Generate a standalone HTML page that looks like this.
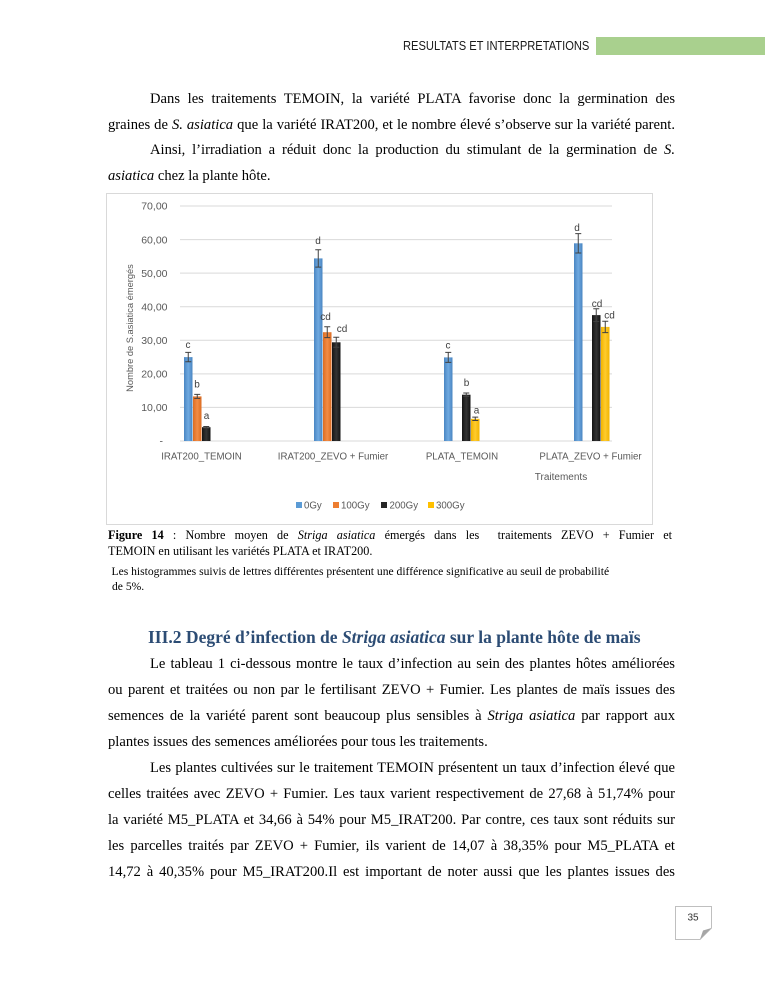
<!DOCTYPE html>
<html>
<head>
<meta charset="utf-8">
<style>
  html, body { margin:0; padding:0; background:#fff; }
  body { width:765px; height:990px; position:relative; overflow:hidden; }
  .t { position:absolute; font-family:"Liberation Serif", "DejaVu Serif", serif; color:#000; white-space:nowrap; }
  .b { font-size:14.6px; height:20px; line-height:20px; }
  .j { text-align:justify; text-align-last:justify; }
  .full { left:108px; width:567px; }
  .ind { left:150px; width:525px; }
  .cap { font-size:12.2px; height:16px; line-height:16px; }
  .note { font-size:11.6px; height:15px; line-height:15px; }
  .hdr { position:absolute; left:403px; top:37px; height:18px; line-height:18px; font-family:"Liberation Sans", sans-serif; font-size:13.2px; color:#1a1a1a; white-space:nowrap; transform-origin:0 50%; transform:scaleX(0.845); }
  .h2 { font-size:17.5px; font-weight:bold; color:#2C4C74; height:24px; line-height:24px; left:148px; }
</style>
</head>
<body>

<!-- header -->
<div class="hdr">RESULTATS ET INTERPRETATIONS</div>
<div style="position:absolute;left:596px;top:37px;width:169px;height:17.5px;background:#A9D08E;"></div>

<!-- top paragraph -->
<div class="t b j ind" style="top:89px;">Dans les traitements TEMOIN, la variété PLATA favorise donc la germination des</div>
<div class="t b j full" style="top:115px;">graines de <i>S. asiatica</i> que la variété IRAT200, et le nombre élevé s’observe sur la variété parent.</div>
<div class="t b j ind" style="top:140px;">Ainsi, l’irradiation a réduit donc la production du stimulant de la germination de <i>S.</i></div>
<div class="t b" style="left:108px;top:166px;"><i>asiatica</i> chez la plante hôte.</div>

<!-- chart -->
<svg style="position:absolute;left:0;top:0;" width="765" height="990" viewBox="0 0 765 990" xmlns="http://www.w3.org/2000/svg">
  <defs>
    <linearGradient id="gb" x1="0" y1="0" x2="1" y2="0">
      <stop offset="0" stop-color="#4A86C2"/><stop offset="0.5" stop-color="#6FA9E0"/><stop offset="1" stop-color="#4A86C2"/>
    </linearGradient>
    <linearGradient id="go" x1="0" y1="0" x2="1" y2="0">
      <stop offset="0" stop-color="#DC6C22"/><stop offset="0.5" stop-color="#F28C45"/><stop offset="1" stop-color="#DC6C22"/>
    </linearGradient>
    <linearGradient id="gk" x1="0" y1="0" x2="1" y2="0">
      <stop offset="0" stop-color="#141414"/><stop offset="0.5" stop-color="#343434"/><stop offset="1" stop-color="#141414"/>
    </linearGradient>
    <linearGradient id="gy" x1="0" y1="0" x2="1" y2="0">
      <stop offset="0" stop-color="#F2B400"/><stop offset="0.5" stop-color="#FFCB2E"/><stop offset="1" stop-color="#F2B400"/>
    </linearGradient>
  </defs>

  <rect x="106.5" y="193.5" width="546" height="331" fill="#fff" stroke="#D9D9D9" stroke-width="1"/>

  <!-- gridlines -->
  <g stroke="#D9D9D9" stroke-width="1">
    <line x1="180" y1="206" x2="612" y2="206"/>
    <line x1="180" y1="239.6" x2="612" y2="239.6"/>
    <line x1="180" y1="273.1" x2="612" y2="273.1"/>
    <line x1="180" y1="306.7" x2="612" y2="306.7"/>
    <line x1="180" y1="340.3" x2="612" y2="340.3"/>
    <line x1="180" y1="373.9" x2="612" y2="373.9"/>
    <line x1="180" y1="407.4" x2="612" y2="407.4"/>
    <line x1="180" y1="441" x2="612" y2="441"/>
  </g>

  <!-- y tick labels -->
  <g font-family="Liberation Sans, sans-serif" font-size="10.5" fill="#595959" text-anchor="end">
    <text x="167.5" y="209.7">70,00</text>
    <text x="167.5" y="243.3">60,00</text>
    <text x="167.5" y="276.8">50,00</text>
    <text x="167.5" y="310.4">40,00</text>
    <text x="167.5" y="344">30,00</text>
    <text x="167.5" y="377.6">20,00</text>
    <text x="167.5" y="411.1">10,00</text>
    <text x="163" y="444.5">-</text>
  </g>

  <!-- y axis title -->
  <text transform="translate(132.8,328) rotate(-90)" font-family="Liberation Sans, sans-serif" font-size="9.3" fill="#595959" text-anchor="middle">Nombre de S.asiatica émergés</text>

  <!-- bars -->
  <g>
    <rect x="184" y="357.1" width="8.5" height="83.9" fill="url(#gb)"/>
    <rect x="193" y="396.4" width="8.5" height="44.6" fill="url(#go)"/>
    <rect x="202" y="427.2" width="8.5" height="13.8" fill="url(#gk)"/>
    <rect x="314" y="258.4" width="8.5" height="182.6" fill="url(#gb)"/>
    <rect x="323" y="332.2" width="8.5" height="108.8" fill="url(#go)"/>
    <rect x="332" y="342.3" width="8.5" height="98.7" fill="url(#gk)"/>
    <rect x="444" y="357.4" width="8.5" height="83.6" fill="url(#gb)"/>
    <rect x="462" y="394.7" width="8.5" height="46.3" fill="url(#gk)"/>
    <rect x="471" y="418.8" width="8.5" height="22.2" fill="url(#gy)"/>
    <rect x="574" y="243.3" width="8.5" height="197.7" fill="url(#gb)"/>
    <rect x="592" y="315.1" width="8.5" height="125.9" fill="url(#gk)"/>
    <rect x="601" y="326.9" width="8.5" height="114.1" fill="url(#gy)"/>
  </g>

  <!-- error bars -->
  <g stroke="#404040" stroke-width="1" fill="none">
    <path d="M188.25 352.4V361.8M185.25 352.4H191.25M185.25 361.8H191.25"/>
    <path d="M197.25 394.4V398.4M194.25 394.4H200.25M194.25 398.4H200.25"/>
    <path d="M206.25 426.5V427.9M203.25 426.5H209.25M203.25 427.9H209.25"/>

    <path d="M318.25 249.7V267.1M315.25 249.7H321.25M315.25 267.1H321.25"/>
    <path d="M327.25 326.8V337.6M324.25 326.8H330.25M324.25 337.6H330.25"/>
    <path d="M336.25 337.3V347.3M333.25 337.3H339.25M333.25 347.3H339.25"/>

    <path d="M448.25 352.4V362.4M445.25 352.4H451.25M445.25 362.4H451.25"/>
    <path d="M466.25 393V396.4M463.25 393H469.25M463.25 396.4H469.25"/>
    <path d="M475.25 417.1V420.5M472.25 417.1H478.25M472.25 420.5H478.25"/>

    <path d="M578.25 233.6V253M575.25 233.6H581.25M575.25 253H581.25"/>
    <path d="M596.25 308.7V321.5M593.25 308.7H599.25M593.25 321.5H599.25"/>
    <path d="M605.25 321.2V332.6M602.25 321.2H608.25M602.25 332.6H608.25"/>
  </g>

  <!-- data letters -->
  <g font-family="Liberation Sans, sans-serif" font-size="10" fill="#404040" text-anchor="middle">
    <text x="188" y="348">c</text>
    <text x="197" y="387.5">b</text>
    <text x="206.5" y="419">a</text>
    <text x="318" y="244">d</text>
    <text x="325.5" y="320">cd</text>
    <text x="342" y="332">cd</text>
    <text x="448" y="348.5">c</text>
    <text x="466.5" y="386">b</text>
    <text x="476.5" y="413.5">a</text>
    <text x="577" y="231">d</text>
    <text x="597" y="307">cd</text>
    <text x="609.5" y="318.5">cd</text>
  </g>

  <!-- category labels -->
  <g font-family="Liberation Sans, sans-serif" font-size="9.7" fill="#595959" text-anchor="middle">
    <text x="201.5" y="459.4">IRAT200_TEMOIN</text>
    <text x="333" y="459.4">IRAT200_ZEVO + Fumier</text>
    <text x="462" y="459.4">PLATA_TEMOIN</text>
    <text x="590.5" y="459.4">PLATA_ZEVO + Fumier</text>
  </g>
  <text x="561" y="480" font-family="Liberation Sans, sans-serif" font-size="10" fill="#595959" text-anchor="middle">Traitements</text>

  <!-- legend -->
  <rect x="296" y="502" width="6" height="6" fill="#5B9BD5"/>
  <rect x="333" y="502" width="6" height="6" fill="#ED7D31"/>
  <rect x="381" y="502" width="6" height="6" fill="#262626"/>
  <rect x="428" y="502" width="6" height="6" fill="#FFC000"/>
  <g font-family="Liberation Sans, sans-serif" font-size="9.7" fill="#595959">
    <text x="304" y="508.4">0Gy</text>
    <text x="341" y="508.4">100Gy</text>
    <text x="389.5" y="508.4">200Gy</text>
    <text x="436" y="508.4">300Gy</text>
  </g>

  <!-- page number box -->
  <path d="M675.5 906.5H711.5V928L700 939.5H675.5Z" fill="#fff" stroke="#BFBFBF" stroke-width="1"/>
  <path d="M700 939.5L711.5 928L703 930.5Z" fill="#A6A6A6"/>
  <text x="693" y="920.5" font-family="Liberation Sans, sans-serif" font-size="10" fill="#333" text-anchor="middle">35</text>
</svg>

<!-- caption -->
<div class="t cap j" style="left:108px;width:564px;top:527px;"><b>Figure 14</b> : Nombre moyen de <i>Striga asiatica</i> émergés dans les &nbsp;traitements ZEVO + Fumier et</div>
<div class="t cap" style="left:108px;top:543px;">TEMOIN en utilisant les variétés PLATA et IRAT200.</div>
<div class="t note" style="left:111.5px;top:563.5px;">Les histogrammes suivis de lettres différentes présentent une différence significative au seuil de probabilité</div>
<div class="t note" style="left:112px;top:578.5px;">de 5%.</div>

<!-- heading -->
<div class="t h2" style="top:625px;">III.2 Degré d’infection de <i>Striga asiatica</i> sur la plante hôte de maïs</div>

<!-- second paragraph -->
<div class="t b j ind" style="top:654px;">Le tableau 1 ci-dessous montre le taux d’infection au sein des plantes hôtes améliorées</div>
<div class="t b j full" style="top:680px;">ou parent et traitées ou non par le fertilisant ZEVO + Fumier. Les plantes de maïs issues des</div>
<div class="t b j full" style="top:706px;">semences de la variété parent sont beaucoup plus sensibles à <i>Striga asiatica</i> par rapport aux</div>
<div class="t b" style="left:108px;top:732px;">plantes issues des semences améliorées pour tous les traitements.</div>
<div class="t b j ind" style="top:758px;">Les plantes cultivées sur le traitement TEMOIN présentent un taux d’infection élevé que</div>
<div class="t b j full" style="top:784px;">celles traitées avec ZEVO + Fumier. Les taux varient respectivement de 27,68 à 51,74% pour</div>
<div class="t b j full" style="top:810px;">la variété M5_PLATA et 34,66 à 54% pour M5_IRAT200. Par contre, ces taux sont réduits sur</div>
<div class="t b j full" style="top:836px;">les parcelles traités par ZEVO + Fumier, ils varient de 14,07 à 38,35% pour M5_PLATA et</div>
<div class="t b j full" style="top:862px;">14,72 à 40,35% pour M5_IRAT200.Il est important de noter aussi que les plantes issues des</div>

</body>
</html>
